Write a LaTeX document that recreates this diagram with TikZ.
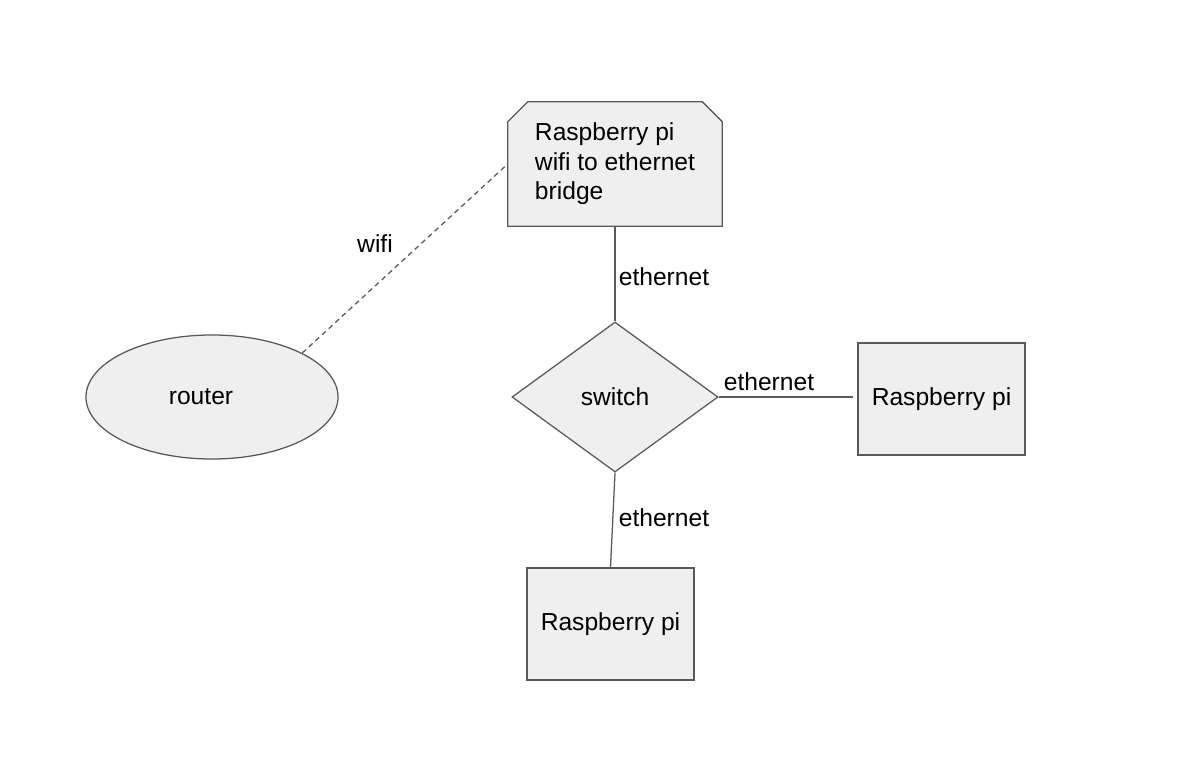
\documentclass[tikz,border=0pt]{standalone}
\usepackage{fontspec}
\setmainfont{Liberation Sans}
\usetikzlibrary{shapes.geometric,backgrounds}
\definecolor{edgegray}{RGB}{89,89,89}
\definecolor{boxfill}{RGB}{239,239,239}
\tikzset{
  box/.style={draw=edgegray, fill=boxfill, line width=0.9pt},
  link/.style={draw=edgegray, line width=0.9pt},
  lbl/.style={inner sep=0pt},
}
\begin{document}
\begin{tikzpicture}[x=0.025cm, y=-0.025cm, font=\fontsize{17.5}{21}\selectfont]
\useasboundingbox (0,0) rectangle (1182,776);
% Nodes
\node[rectangle, minimum width=5.35cm, minimum height=3.1cm, align=left] (bridge) at (615,164)
  {Raspberry pi\\wifi to ethernet\\bridge};
\begin{pgfonlayer}{background}
\draw[box] (bridge.south west) -- ([yshift=-0.5cm]bridge.north west) -- ([xshift=0.5cm]bridge.north west)
  -- ([xshift=-0.5cm]bridge.north east) -- ([yshift=-0.5cm]bridge.north east) -- (bridge.south east) -- cycle;
\end{pgfonlayer}
\node[box, ellipse, minimum width=6.3cm, minimum height=3.1cm] (router) at (212,397) {router\hspace*{0.55cm}};
\node[box, diamond, aspect=1.373, minimum width=5.15cm, minimum height=3.75cm, inner sep=0pt] (switch) at (615,397) {switch};
\node[box, rectangle, minimum width=4.175cm, minimum height=2.8cm] (rightpi) at (941.5,399) {Raspberry pi};
\node[box, rectangle, minimum width=4.175cm, minimum height=2.8cm] (bottompi) at (610.5,624) {Raspberry pi};
% Links
\draw[link, dash pattern=on 3.6pt off 2.8pt] (router.26) -- (bridge.west);
\draw[link] (bridge.south) -- (switch.north);
\draw[link] (switch.east) -- ([xshift=-0.12cm]rightpi.west |- switch.east);
\draw[link] (switch.south) -- (bottompi.north);
% Labels
\node[lbl] (wifilbl) at (375,244) {wifi};
\node[lbl] (ethtop) at (664,277) {ethernet};
\node[lbl] (ethright) at (769,382) {ethernet};
\node[lbl] (ethbottom) at (664,518) {ethernet};
\end{tikzpicture}
\end{document}
